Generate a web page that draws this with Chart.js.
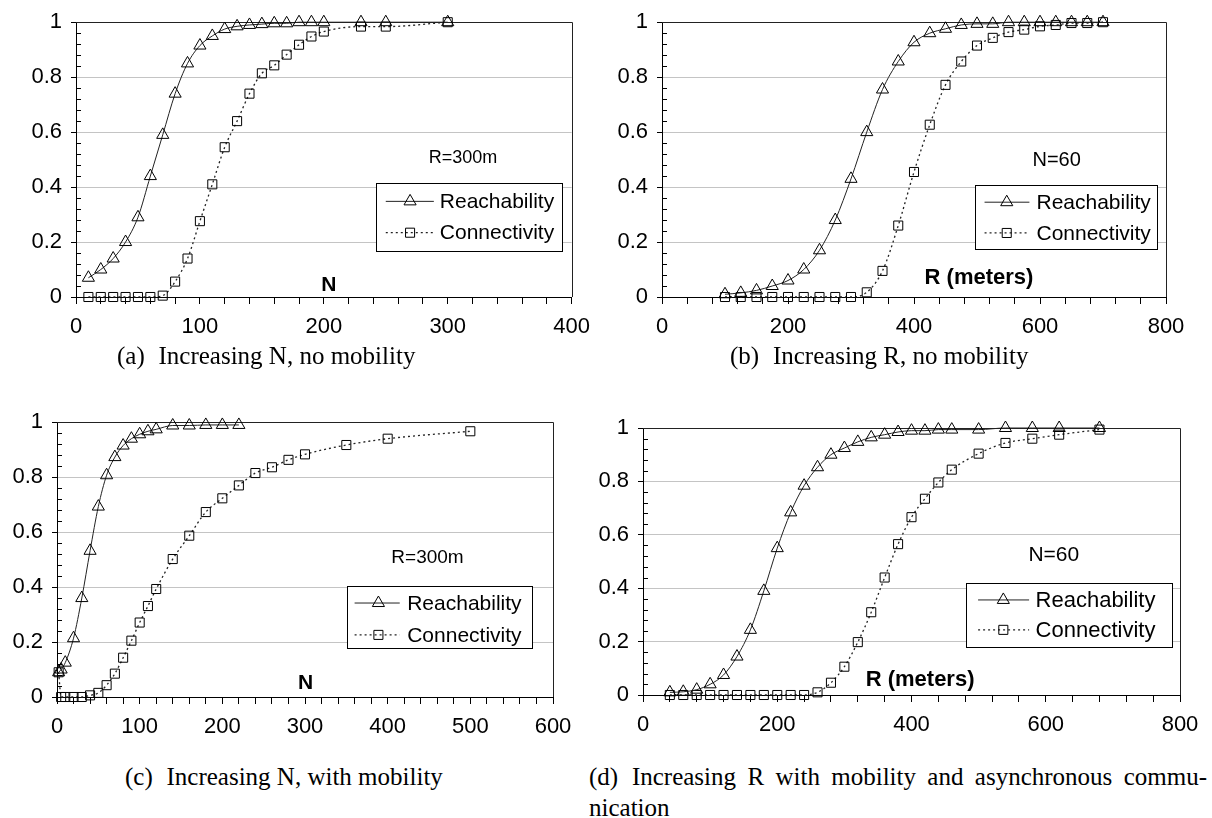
<!DOCTYPE html>
<html>
<head>
<meta charset="utf-8">
<script src="https://cdn.jsdelivr.net/npm/chart.js@4/dist/chart.umd.min.js"></script>
<style>
  body { margin: 0; background: #fff; }
  #page { position: relative; width: 1212px; height: 818px; overflow: hidden; background: #fff; }
  canvas { position: absolute; }
  .cap { position: absolute; font-family: "Liberation Serif", "Times New Roman", serif; font-size: 25px; line-height: 31px; color: #000; white-space: nowrap; }
  .cap .lbl { display: inline-block; margin-right: 0.55em; }
  .just { text-align: justify; text-align-last: justify; }
</style>
</head>
<body>
<div id="page">
  <canvas id="chartA" width="600" height="345" style="left:0px;top:0px"></canvas>
  <canvas id="chartB" width="612" height="345" style="left:600px;top:0px"></canvas>
  <canvas id="chartC" width="600" height="345" style="left:0px;top:400px"></canvas>
  <canvas id="chartD" width="632" height="345" style="left:580px;top:400px"></canvas>

  <div class="cap" style="left:117px;top:340px"><span class="lbl">(a)</span>Increasing N, no mobility</div>
  <div class="cap" style="left:730px;top:340px"><span class="lbl">(b)</span>Increasing R, no mobility</div>
  <div class="cap" style="left:125px;top:761px"><span class="lbl">(c)</span>Increasing N, with mobility</div>
  <div class="cap just" style="left:589px;top:761px;width:618px"><span class="lbl">(d)</span>Increasing R with mobility and asynchronous commu-</div>
  <div class="cap" style="left:589px;top:792px">nication</div>
</div>

<script>
// series names, shared by all four panels
var seriesNames = ["Reachability", "Connectivity"];

// (a) increasing N, no mobility
var aN = [10, 20, 30, 40, 50, 60, 70, 80, 90, 100, 110, 120, 130, 140, 150, 160, 170, 180, 190, 200, 230, 250, 300];
var aReach = [0.07, 0.10, 0.14, 0.20, 0.29, 0.44, 0.59, 0.74, 0.85, 0.915, 0.95, 0.975, 0.985, 0.99, 0.993, 0.996, 0.996, 1, 1, 1, 1, 1, 1];
var aConn = [0, 0, 0, 0, 0, 0, 0.005, 0.056, 0.14, 0.276, 0.41, 0.545, 0.64, 0.74, 0.814, 0.843, 0.882, 0.918, 0.948, 0.966, 0.984, 0.984, 1];

// (b) increasing R, no mobility
var bR = [100, 125, 150, 175, 200, 225, 250, 275, 300, 325, 350, 375, 400, 425, 450, 475, 500, 525, 550, 575, 600, 625, 650, 675, 700];
var bReach = [0.01, 0.015, 0.024, 0.04, 0.06, 0.10, 0.17, 0.28, 0.43, 0.60, 0.755, 0.857, 0.927, 0.96, 0.976, 0.99, 0.994, 0.994, 1, 1, 1, 1, 1, 1, 1];
var bConn = [0, 0, 0, 0, 0, 0, 0, 0, 0, 0.017, 0.095, 0.26, 0.455, 0.627, 0.772, 0.857, 0.915, 0.943, 0.964, 0.973, 0.985, 0.99, 0.997, 0.997, 1];

// (c) increasing N, with mobility
var cReachN = [2, 5, 10, 20, 30, 40, 50, 60, 70, 80, 90, 100, 110, 120, 140, 160, 180, 200, 220];
var cReach = [0.09, 0.10, 0.125, 0.214, 0.36, 0.532, 0.693, 0.807, 0.873, 0.915, 0.94, 0.956, 0.967, 0.974, 0.988, 0.988, 0.99, 0.99, 0.99];
var cConnN = [2, 5, 10, 20, 30, 40, 50, 60, 70, 80, 90, 100, 110, 120, 140, 160, 180, 200, 220, 240, 260, 280, 300, 350, 400, 500];
var cConn = [0.09, 0, 0, 0, 0, 0.006, 0.015, 0.043, 0.085, 0.143, 0.205, 0.271, 0.331, 0.393, 0.502, 0.587, 0.673, 0.723, 0.77, 0.815, 0.836, 0.863, 0.883, 0.917, 0.94, 0.967];

// (d) increasing R with mobility and asynchronous communication
var dR = [40, 60, 80, 100, 120, 140, 160, 180, 200, 220, 240, 260, 280, 300, 320, 340, 360, 380, 400, 420, 440, 460, 500, 540, 580, 620, 680];
var dReach = [0.01, 0.012, 0.02, 0.04, 0.075, 0.144, 0.244, 0.39, 0.55, 0.684, 0.784, 0.853, 0.9, 0.925, 0.948, 0.965, 0.975, 0.985, 0.99, 0.99, 0.994, 0.994, 0.994, 1, 1, 1, 1];
var dConn = [0, 0, 0, 0, 0, 0, 0, 0, 0, 0, 0, 0.01, 0.046, 0.106, 0.198, 0.31, 0.44, 0.565, 0.666, 0.735, 0.796, 0.844, 0.904, 0.944, 0.96, 0.975, 0.994];

// tick labels
var yLabels = [0, 0.2, 0.4, 0.6, 0.8, 1];
var xLabelsA = [0, 100, 200, 300, 400];
var xLabelsB = [0, 200, 400, 600, 800];
var xLabelsC = [0, 100, 200, 300, 400, 500, 600];
var xLabelsD = [0, 200, 400, 600, 800];

var sans = '"Liberation Sans", Arial, sans-serif';

function isMajorY(v) {
  return yLabels.some(function (l) { return Math.abs(l - v) < 1e-6; });
}

function toPoints(xs, ys) {
  return xs.map(function (x, i) { return { x: x, y: ys[i] }; });
}

// legend box + text annotations, placed as fractions of the plot area
var decor = {
  chartA: {
    legend: { box: [0.606, 0.586, 0.982, 0.832], line: [0.625, 0.722], marker: 0.674, text: 0.734, rows: [0.652, 0.766], size: 21 },
    notes: [{ t: "R=300m", fx: 0.781, fy: 0.492, size: 18 }, { t: "N", fx: 0.51, fy: 0.952, size: 21, bold: true }]
  },
  chartB: {
    legend: { box: [0.622, 0.594, 0.984, 0.828], line: [0.640, 0.729], marker: 0.684, text: 0.743, rows: [0.655, 0.767], size: 21 },
    notes: [{ t: "N=60", fx: 0.783, fy: 0.5, size: 20 }, { t: "R (meters)", fx: 0.629, fy: 0.927, size: 22, bold: true }]
  },
  chartC: {
    legend: { box: [0.584, 0.595, 0.957, 0.821], line: [0.600, 0.691], marker: 0.648, text: 0.706, rows: [0.658, 0.774], size: 21 },
    notes: [{ t: "R=300m", fx: 0.747, fy: 0.49, size: 19 }, { t: "N", fx: 0.501, fy: 0.946, size: 21, bold: true }]
  },
  chartD: {
    legend: { box: [0.601, 0.581, 0.984, 0.819], line: [0.624, 0.719], marker: 0.671, text: 0.731, rows: [0.644, 0.756], size: 22 },
    notes: [{ t: "N=60", fx: 0.765, fy: 0.471, size: 21 }, { t: "R (meters)", fx: 0.516, fy: 0.941, size: 22, bold: true }]
  }
};

function drawMarker(ctx, style, x, y, r) {
  ctx.beginPath();
  if (style === "triangle") {
    var a = 0;
    for (var k = 0; k < 3; k++) {
      var px = x + Math.sin(a) * r, py = y - Math.cos(a) * r;
      if (k === 0) ctx.moveTo(px, py); else ctx.lineTo(px, py);
      a += 2 * Math.PI / 3;
    }
    ctx.closePath();
  } else {
    var s = Math.SQRT1_2 * r;
    ctx.rect(x - s, y - s, 2 * s, 2 * s);
  }
  ctx.stroke();
}

var panelDecor = {
  id: "panelDecor",
  beforeDatasetsDraw: function (chart) {
    var ctx = chart.ctx, a = chart.chartArea, ys = chart.scales.y;
    ctx.save();
    ctx.strokeStyle = "#000";
    ctx.lineWidth = 1;
    // minor ticks on the inside of the y axis
    ys.ticks.forEach(function (t) {
      if (isMajorY(t.value)) return;
      var py = Math.round(ys.getPixelForValue(t.value)) + 0.5;
      ctx.beginPath();
      ctx.moveTo(a.left, py);
      ctx.lineTo(a.left + 5, py);
      ctx.stroke();
    });
    // top and right frame
    ctx.strokeStyle = "#222";
    ctx.beginPath();
    ctx.moveTo(a.left, Math.round(a.top) + 0.5);
    ctx.lineTo(Math.round(a.right) + 0.5, Math.round(a.top) + 0.5);
    ctx.lineTo(Math.round(a.right) + 0.5, a.bottom);
    ctx.stroke();
    ctx.restore();
  },
  afterDatasetsDraw: function (chart) {
    var d = decor[chart.canvas.id];
    if (!d) return;
    var ctx = chart.ctx, a = chart.chartArea;
    var w = a.right - a.left, h = a.bottom - a.top;
    var L = d.legend;
    ctx.save();
    var bx = Math.round(a.left + L.box[0] * w) + 0.5, by = Math.round(a.top + L.box[1] * h) + 0.5;
    var bw = Math.round((L.box[2] - L.box[0]) * w), bh = Math.round((L.box[3] - L.box[1]) * h);
    ctx.fillStyle = "#fff";
    ctx.fillRect(bx, by, bw, bh);
    ctx.strokeStyle = "#000";
    ctx.lineWidth = 1;
    ctx.strokeRect(bx, by, bw, bh);
    chart.data.datasets.forEach(function (ds, i) {
      var y = a.top + L.rows[i] * h;
      ctx.strokeStyle = "#222";
      ctx.lineWidth = ds.borderWidth;
      ctx.setLineDash(ds.borderDash || []);
      ctx.beginPath();
      ctx.moveTo(a.left + L.line[0] * w, y);
      ctx.lineTo(a.left + L.line[1] * w, y);
      ctx.stroke();
      ctx.setLineDash([]);
      ctx.lineWidth = 1;
      ctx.strokeStyle = "#000";
      drawMarker(ctx, ds.pointStyle, a.left + L.marker * w, y, ds.pointRadius);
      ctx.fillStyle = "#000";
      ctx.font = L.size + "px " + sans;
      ctx.textAlign = "left";
      ctx.textBaseline = "middle";
      ctx.fillText(ds.label, a.left + L.text * w, y + 1);
    });
    d.notes.forEach(function (n) {
      ctx.fillStyle = "#000";
      ctx.font = (n.bold ? "bold " : "") + n.size + "px " + sans;
      ctx.textAlign = "center";
      ctx.textBaseline = "middle";
      ctx.fillText(n.t, a.left + n.fx * w, a.top + n.fy * h + 1);
    });
    ctx.restore();
  }
};

function makeChart(id, cfg) {
  var ctx = document.getElementById(id).getContext("2d");
  return new Chart(ctx, {
    type: "line",
    data: {
      datasets: [{
        label: seriesNames[0],
        data: toPoints(cfg.reachX, cfg.reachY),
        borderColor: "#222",
        borderWidth: 1,
        pointStyle: "triangle",
        pointRadius: 7,
        pointBorderColor: "#000",
        pointBackgroundColor: "rgba(0,0,0,0)",
        pointBorderWidth: 1,
        cubicInterpolationMode: "monotone",
        fill: false,
        clip: false
      }, {
        label: seriesNames[1],
        data: toPoints(cfg.connX, cfg.connY),
        borderColor: "#222",
        borderWidth: 1.3,
        borderDash: [2, 3],
        pointStyle: "rect",
        pointRadius: 6.4,
        pointBorderColor: "#000",
        pointBackgroundColor: "rgba(0,0,0,0)",
        pointBorderWidth: 1,
        cubicInterpolationMode: "monotone",
        fill: false,
        clip: false
      }]
    },
    options: {
      responsive: false,
      animation: false,
      devicePixelRatio: 1,
      layout: { padding: cfg.pad },
      plugins: { legend: { display: false }, tooltip: { enabled: false } },
      scales: {
        x: {
          type: "linear",
          min: 0,
          max: cfg.xMax,
          afterFit: function (s) { s.height = cfg.xH; },
          ticks: {
            stepSize: cfg.xStep,
            autoSkip: false,
            maxRotation: 0,
            padding: 10,
            color: "#000",
            font: { family: sans, size: 22 },
            callback: function (v) { return cfg.xLabels.indexOf(v) >= 0 ? String(v) : ""; }
          },
          grid: { drawOnChartArea: false, drawTicks: true, tickLength: 7, tickColor: "#000", color: "#000" },
          border: { color: "#000", width: 1 }
        },
        y: {
          type: "linear",
          min: 0,
          max: 1,
          afterFit: function (s) { s.width = cfg.yW; },
          ticks: {
            stepSize: 0.04,
            autoSkip: false,
            padding: 9,
            color: "#000",
            font: { family: sans, size: 22 },
            callback: function (v) { return isMajorY(v) ? String(Math.round(v * 10) / 10) : ""; }
          },
          grid: {
            tickLength: 5,
            color: function (c) { return c.tick && isMajorY(c.tick.value) ? "#c4c4c4" : "rgba(0,0,0,0)"; },
            tickColor: function (c) { return c.tick && isMajorY(c.tick.value) ? "#000" : "rgba(0,0,0,0)"; }
          },
          border: { color: "#000", width: 1 }
        }
      }
    },
    plugins: [panelDecor]
  });
}

makeChart("chartA", {
  reachX: aN, reachY: aReach, connX: aN, connY: aConn,
  xMax: 400, xStep: 20, xLabels: xLabelsA,
  yW: 76, xH: 48, pad: { left: 0, right: 28, top: 19, bottom: 0 }
});
makeChart("chartB", {
  reachX: bR, reachY: bReach, connX: bR, connY: bConn,
  xMax: 800, xStep: 40, xLabels: xLabelsB,
  yW: 62, xH: 48, pad: { left: 0, right: 46, top: 22, bottom: 0 }
});
makeChart("chartC", {
  reachX: cReachN, reachY: cReach, connX: cConnN, connY: cConn,
  xMax: 600, xStep: 20, xLabels: xLabelsC,
  yW: 57, xH: 48, pad: { left: 0, right: 47, top: 17, bottom: 0 }
});
makeChart("chartD", {
  reachX: dR, reachY: dReach, connX: dR, connY: dConn,
  xMax: 800, xStep: 40, xLabels: xLabelsD,
  yW: 63, xH: 50, pad: { left: 0, right: 32, top: 28, bottom: 0 }
});
</script>
</body>
</html>
